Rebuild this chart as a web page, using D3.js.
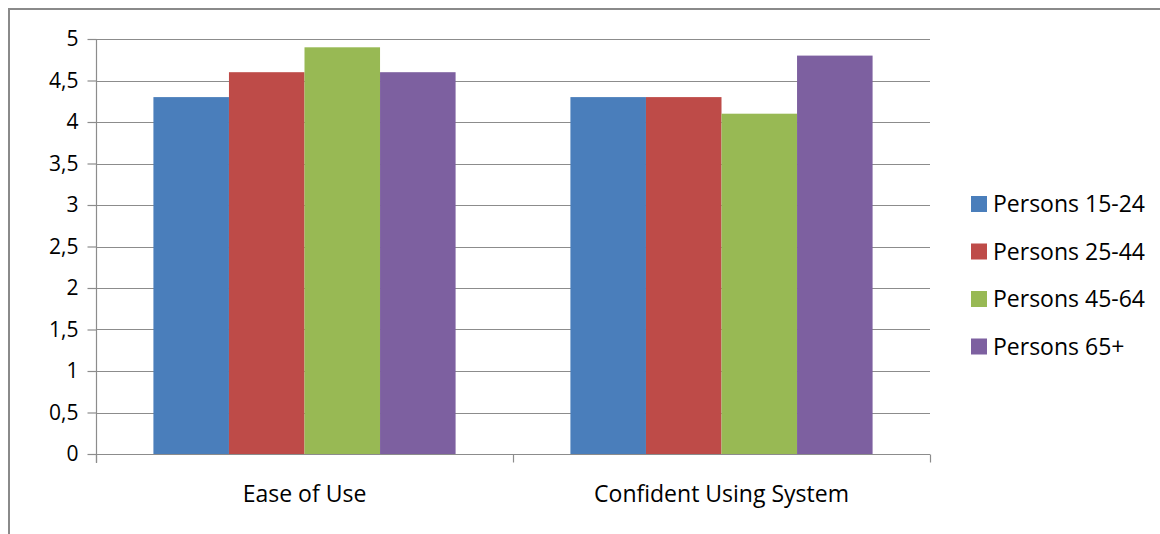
<!DOCTYPE html>
<html>
<head>
<meta charset="utf-8">
<script src="https://cdn.jsdelivr.net/npm/d3@7"></script>
<style>
  html, body { margin: 0; padding: 0; background: #fff; }
  svg text { font-family: "Open Sans", Lato, sans-serif; fill: #000; }
</style>
</head>
<body>
<svg id="chart" width="1160" height="534"></svg>
<script>
const categories = ["Ease of Use", "Confident Using System"];
const seriesNames = ["Persons 15-24", "Persons 25-44", "Persons 45-64", "Persons 65+"];
const seriesColors = ["#4a7ebb", "#be4b48", "#98b954", "#7d60a0"];
const values = [
  [4.3, 4.3],   // Persons 15-24
  [4.6, 4.3],   // Persons 25-44
  [4.9, 4.1],   // Persons 45-64
  [4.6, 4.8]    // Persons 65+
];
const yTicks = [0, 0.5, 1, 1.5, 2, 2.5, 3, 3.5, 4, 4.5, 5];
const yTickLabels = ["0", "0,5", "1", "1,5", "2", "2,5", "3", "3,5", "4", "4,5", "5"];

const svg = d3.select("#chart");
const plot = { left: 96, right: 930, top: 39, bottom: 454 };

// outer chart frame
svg.append("rect")
  .attr("x", 9).attr("y", 9).attr("width", 1170).attr("height", 560)
  .attr("fill", "none").attr("stroke", "#8a8a8a").attr("stroke-width", 2);

const y = d3.scaleLinear().domain([0, 5]).range([plot.bottom, plot.top]);
const x0 = d3.scaleBand().domain(categories).range([plot.left, plot.right]).paddingInner(0).paddingOuter(0);
const x1 = d3.scaleBand().domain(seriesNames)
  .range([0, x0.bandwidth()]).paddingInner(0).paddingOuter(0.76);

// horizontal gridlines
svg.append("g")
  .selectAll("line").data(yTicks.filter(t => t > 0)).join("line")
  .attr("x1", plot.left).attr("x2", plot.right)
  .attr("y1", d => Math.round(y(d)) + 0.5).attr("y2", d => Math.round(y(d)) + 0.5)
  .attr("stroke", "#8c8c8c").attr("stroke-width", 1.2);

// bars
const groups = svg.append("g").selectAll("g").data(categories).join("g")
  .attr("transform", c => `translate(${x0(c)},0)`);
groups.selectAll("rect")
  .data((c, ci) => seriesNames.map((s, si) => ({ s, si, v: values[si][ci] })))
  .join("rect")
  .attr("x", d => x1(d.s))
  .attr("width", x1.bandwidth())
  .attr("y", d => y(d.v))
  .attr("height", d => y(0) - y(d.v))
  .attr("fill", d => seriesColors[d.si]);

// y axis
const yAxis = d3.axisLeft(y).tickValues(yTicks)
  .tickFormat((d, i) => yTickLabels[i]).tickSize(9).tickPadding(9);
const gy = svg.append("g").attr("transform", `translate(${plot.left + 0.5},0)`).call(yAxis);
gy.select(".domain").attr("stroke", "#8c8c8c").attr("stroke-width", 1.2)
  .attr("d", `M0,${plot.top}V${plot.bottom + 9}`);
gy.selectAll(".tick line").attr("stroke", "#8c8c8c").attr("stroke-width", 1.2);
gy.selectAll(".tick text").style("font-size", "21px").attr("fill", "#000");

// x axis
const xAxis = d3.axisBottom(x0).tickSize(0).tickPadding(31);
const gx = svg.append("g").attr("transform", `translate(0,${plot.bottom + 0.5})`).call(xAxis);
gx.select(".domain").attr("stroke", "#8c8c8c").attr("stroke-width", 1.2)
  .attr("d", `M${plot.left},0H${plot.right}`);
gx.selectAll(".tick text").style("font-size", "23px").attr("fill", "#000");
// category separator ticks
const sepTicks = [plot.left, x0(categories[1]), plot.right];
gx.selectAll(".sep").data(sepTicks).join("line").attr("class", "sep")
  .attr("x1", d => Math.round(d) + 0.5).attr("x2", d => Math.round(d) + 0.5)
  .attr("y1", 0).attr("y2", 8)
  .attr("stroke", "#8c8c8c").attr("stroke-width", 1.2);

// legend
const legend = svg.append("g").attr("transform", "translate(971,196)");
const rows = legend.selectAll("g").data(seriesNames).join("g")
  .attr("transform", (d, i) => `translate(0,${i * 47.5})`);
rows.append("rect").attr("width", 16).attr("height", 16)
  .attr("fill", (d, i) => seriesColors[i]);
rows.append("text").attr("x", 22).attr("y", 8).attr("dy", "0.36em")
  .style("font-size", "23px").text(d => d);
</script>
</body>
</html>
